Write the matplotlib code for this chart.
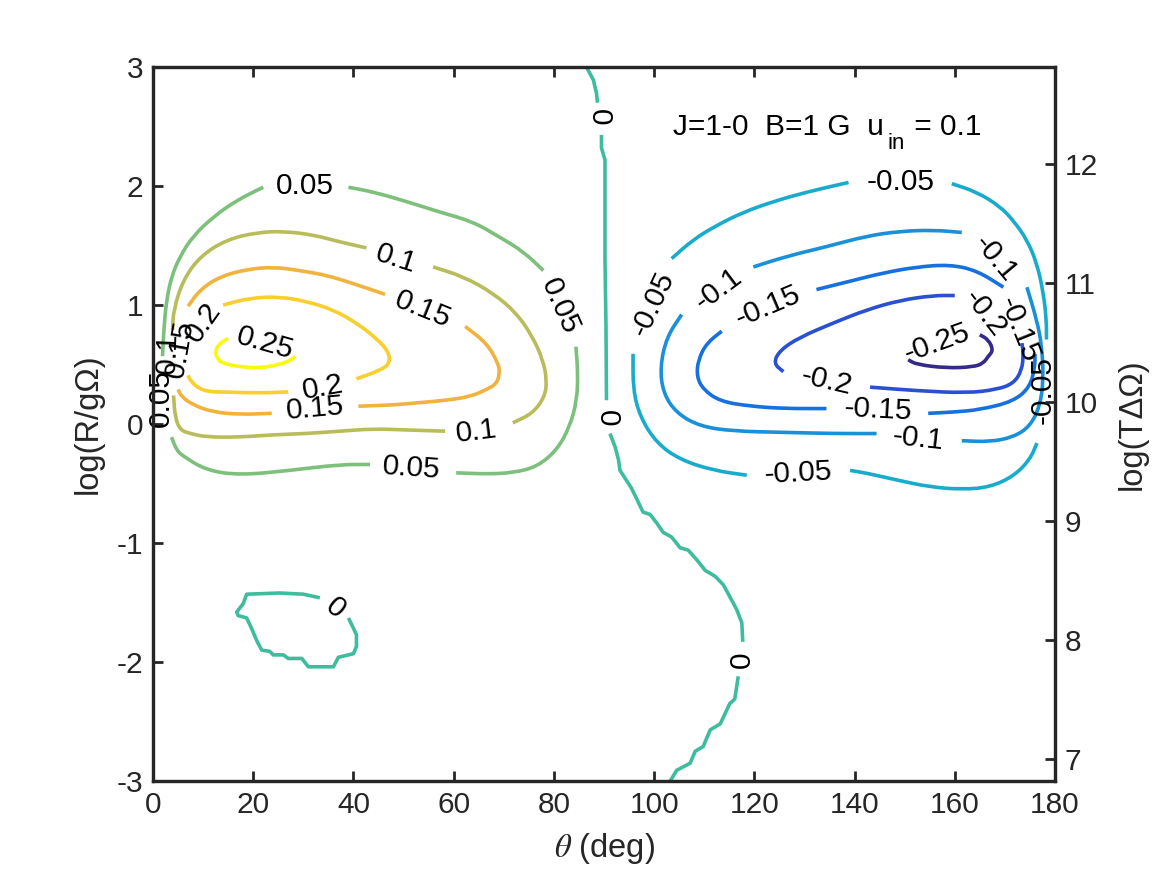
import numpy as np
import matplotlib
matplotlib.use("Agg")
import matplotlib.pyplot as plt
from matplotlib.path import Path
from matplotlib.patches import PathPatch

plt.rcParams['font.family'] = ['Liberation Sans', 'DejaVu Sans']
plt.rcParams['mathtext.fontset'] = 'stix'
plt.rcParams['axes.unicode_minus'] = False

# ---------------- data (theta [deg], log(R/gOmega)) ----------------
levels = [-0.25, -0.2, -0.15, -0.1, -0.05, 0.0, 0.05, 0.1, 0.15, 0.2, 0.25]
level_colors = ['#352a87', '#2a50d2', '#1670dd', '#1a90d8', '#19abcb', '#3ebc9e',
                '#7dc07b', '#b8bc5b', '#f0b33e', '#f8cf2c', '#f9f90f']

p005 = [
    [(1.9, 0.57), (2.2, 0.82), (2.7, 1.04), (3.7, 1.24), (5.4, 1.41), (8.0, 1.58), (12.0, 1.74), (16.7, 1.88), (22.0, 1.99)],
    [(39.0, 1.99), (44.0, 1.95), (50.6, 1.87), (57.3, 1.78), (63.9, 1.70), (69.2, 1.57), (73.9, 1.45), (77.9, 1.29)],
    [(84.4, 0.65), (84.8, 0.43), (84.6, 0.20), (83.2, -0.02), (80.6, -0.22), (76.6, -0.36), (71.8, -0.41), (66.6, -0.42), (60.5, -0.41)],
    [(43.3, -0.34), (37.3, -0.34), (27.3, -0.39), (17.4, -0.43), (10.7, -0.39), (6.0, -0.27), (4.7, -0.22), (3.7, -0.11)],
]
p010 = [
    [(3.9, 0.79), (4.1, 0.96), (6.0, 1.21), (9.4, 1.41), (14.7, 1.55), (20.7, 1.61), (26.0, 1.62), (32.0, 1.59), (37.3, 1.53), (42.6, 1.48)],
    [(55.9, 1.32), (61.9, 1.24), (67.9, 1.10), (72.6, 0.93), (75.8, 0.73), (77.8, 0.54), (78.6, 0.37), (78.2, 0.23), (75.8, 0.09), (71.8, 0.01)],
    [(58.3, -0.06), (50.6, -0.05), (44.0, -0.04), (37.3, -0.06), (30.7, -0.08), (24.0, -0.09), (17.4, -0.11), (10.7, -0.11), (7.4, -0.08), (5.4, -0.05), (4.4, 0.06), (4.1, 0.24)],
]
p015 = [
    [(7.0, 0.99), (9.4, 1.13), (13.4, 1.24), (18.7, 1.30), (24.0, 1.32), (29.3, 1.29), (34.7, 1.25), (40.0, 1.18), (46.3, 1.09)],
    [(62.3, 0.82), (66.6, 0.68), (68.9, 0.51), (69.2, 0.43), (68.6, 0.34), (66.6, 0.29), (63.3, 0.23), (58.6, 0.20), (53.3, 0.18), (48.0, 0.16), (41.0, 0.15)],
    [(23.7, 0.09), (17.4, 0.08), (12.0, 0.10), (8.0, 0.16), (5.7, 0.23), (5.0, 0.29)],
]
p020 = [
    [(14.0, 1.00), (19.4, 1.06), (25.3, 1.07), (30.7, 1.03), (36.0, 0.96), (40.6, 0.85), (44.6, 0.72), (47.0, 0.61), (47.3, 0.51), (45.3, 0.45), (40.6, 0.38)],
    [(27.0, 0.27), (20.7, 0.26), (14.0, 0.27), (11.4, 0.27), (9.0, 0.30), (7.4, 0.37), (7.0, 0.41)],
]
p025 = [
    [(15.0, 0.72), (13.4, 0.68), (12.4, 0.62), (12.8, 0.55), (13.9, 0.51), (17.4, 0.48), (21.4, 0.47), (25.3, 0.50), (27.7, 0.54), (28.3, 0.57)],
]
m005 = [
    [(103.5, 1.39), (107.8, 1.55), (112.5, 1.67), (117.8, 1.78), (123.8, 1.87), (130.5, 1.95), (138.8, 2.03)],
    [(159.4, 2.02), (164.4, 1.95), (169.0, 1.83), (171.7, 1.71), (174.4, 1.55), (176.4, 1.35), (177.7, 1.10), (178.3, 0.87), (178.3, 0.71)],
    [(176.4, -0.16), (175.0, -0.30), (171.7, -0.44), (167.0, -0.53), (161.7, -0.55), (155.1, -0.53), (148.4, -0.47), (142.1, -0.41), (139.1, -0.39)],
    [(118.5, -0.43), (111.8, -0.39), (105.2, -0.30), (100.5, -0.16), (97.2, 0.06), (95.8, 0.29), (95.8, 0.59)],
]
m010 = [
    [(119.8, 1.32), (126.5, 1.41), (134.4, 1.49), (142.4, 1.58), (149.1, 1.62), (155.7, 1.63), (161.4, 1.61)],
    [(174.4, 1.15), (176.4, 0.87), (177.4, 0.65), (177.7, 0.37), (177.0, 0.15), (175.0, -0.02), (171.7, -0.11), (167.0, -0.15), (161.4, -0.14)],
    [(144.4, -0.08), (135.8, -0.08), (125.8, -0.07), (115.8, -0.06), (109.2, -0.02), (104.5, 0.09), (101.8, 0.26), (101.2, 0.48), (102.5, 0.73), (105.5, 0.92)],
]
m015 = [
    [(132.4, 1.13), (139.1, 1.20), (145.7, 1.27), (152.4, 1.32), (159.0, 1.34), (164.4, 1.29), (169.7, 1.15)],
    [(176.0, 0.59), (176.0, 0.48), (175.0, 0.31), (171.7, 0.19), (165.0, 0.12), (159.7, 0.10), (154.7, 0.09)],
    [(134.4, 0.13), (125.8, 0.13), (119.1, 0.15), (113.2, 0.19), (109.8, 0.29), (108.5, 0.40), (108.8, 0.54), (110.5, 0.68), (113.5, 0.78)],
]
m020 = [
    [(125.8, 0.44), (123.8, 0.51), (125.1, 0.62), (129.1, 0.73), (135.8, 0.85), (142.4, 0.96), (149.1, 1.04), (155.7, 1.08), (160.0, 1.08)],
    [(173.4, 0.68), (173.7, 0.59), (173.4, 0.45), (171.7, 0.34), (168.4, 0.29), (162.4, 0.26), (152.4, 0.28), (143.1, 0.31)],
]
m025 = [
    [(150.7, 0.54), (152.4, 0.50), (158.4, 0.47), (163.7, 0.48), (165.7, 0.51), (166.7, 0.57), (167.7, 0.62), (166.7, 0.71), (165.0, 0.75)],
]
zero = [
    [(86.5, 3.0), (87.9, 2.89), (88.5, 2.78), (88.7, 2.70)],
    [(89.5, 2.43), (89.5, 2.32), (90.2, 2.22), (90.2, 1.94), (90.2, 1.38), (90.4, 0.82), (90.5, 0.20)],
    [(91.2, -0.08), (92.2, -0.19), (92.9, -0.30), (93.2, -0.39), (95.5, -0.54), (97.8, -0.74), (99.2, -0.76), (100.5, -0.83),
     (101.8, -0.91), (103.5, -0.95), (105.2, -1.04), (106.8, -1.06), (108.5, -1.14), (110.2, -1.23), (112.2, -1.28),
     (113.8, -1.35), (115.1, -1.45), (116.5, -1.56), (117.5, -1.67), (117.7, -1.83)],
    [(116.8, -2.12), (116.1, -2.31), (115.1, -2.35), (113.2, -2.52), (111.2, -2.57), (109.8, -2.71), (108.2, -2.75),
     (107.2, -2.85), (104.5, -2.91), (103.5, -2.98), (103.2, -3.0)],
    [(33.3, -1.46), (30.0, -1.43), (25.3, -1.42), (18.7, -1.43), (18.0, -1.51), (16.7, -1.58), (17.0, -1.61), (18.7, -1.63),
     (19.7, -1.72), (20.7, -1.82), (21.7, -1.90), (23.3, -1.91), (24.0, -1.94), (26.0, -1.94), (27.0, -1.97), (29.7, -1.97),
     (31.0, -2.04), (36.0, -2.04), (37.0, -1.96), (40.0, -1.93), (40.6, -1.87), (40.6, -1.77), (39.7, -1.69), (39.0, -1.63)],
]

label_text = ['0.05', '0.05', '0.05', '0.05',
              '0.1', '0.1', '0.1',
              '0.15', '0.15', '0.15',
              '0.2', '0.2', '0.25',
              '0', '0', '0', '0',
              '-0.05', '-0.05', '-0.05', '-0.05',
              '-0.1', '-0.1', '-0.1',
              '-0.15', '-0.15', '-0.15',
              '-0.2', '-0.2', '-0.25']
label_theta = [30.3, 81.2, 51.6, 1.6,
               48.6, 64.6, 2.9,
               53.9, 32.3, 5.3,
               34.0, 10.0, 22.4,
               89.0, 90.6, 117.5, 36.3,
               149.1, 177.6, 128.8, 99.8,
               168.0, 152.7, 112.8,
               172.8, 144.7, 122.8,
               166.0, 134.4, 156.4]
label_logR = [2.00, 0.99, -0.37, 0.22,
              1.39, -0.06, 0.60,
              0.96, 0.13, 0.63,
              0.31, 0.85, 0.68,
              2.58, 0.05, -1.98, -1.55,
              2.03, 0.29, -0.41, 1.01,
              1.39, -0.12, 1.13,
              0.79, 0.12, 0.99,
              0.93, 0.36, 0.68]
label_angle = [0, -66, -4, 90,
               -18, 7, 88,
               -22, 5, 80,
               10, 55, -16,
               -90, -90, 90, -40,
               0, 90, 3, 65,
               -50, -6, 37,
               -68, -3, 23,
               -52, -13, 20]

x_ticks = [0, 20, 40, 60, 80, 100, 120, 140, 160, 180]
y_ticks = [-3, -2, -1, 0, 1, 2, 3]
y2_ticks = [7, 8, 9, 10, 11, 12]
y2_limits = (6.815, 12.815)

annotation_parts = ['J=1-0  B=1 G  u', 'in', ' = 0.1']


def smooth_path(pts):
    pts = np.asarray(pts, float)
    if len(pts) < 3:
        return Path(pts)
    mids = (pts[:-1] + pts[1:]) / 2.0
    verts = [pts[0], mids[0]]
    codes = [Path.MOVETO, Path.LINETO]
    for i in range(1, len(pts) - 1):
        verts += [pts[i], mids[i]]
        codes += [Path.CURVE3, Path.CURVE3]
    verts.append(pts[-1])
    codes.append(Path.LINETO)
    return Path(verts, codes)


fig = plt.figure(figsize=(11.67, 8.75), dpi=100)
ax = fig.add_axes([0.1311, 0.1074, 0.7729, 0.8160])
ink = '#262626'
LW = 2.6
FS = 21.5
FL = 23.5

smooth_sets = [(m025, -0.25), (m020, -0.2), (m015, -0.15), (m010, -0.1), (m005, -0.05),
               (p005, 0.05), (p010, 0.1), (p015, 0.15), (p020, 0.2), (p025, 0.25)]
for segs, lev in smooth_sets:
    col = level_colors[levels.index(lev)]
    for seg in segs:
        ax.add_patch(PathPatch(smooth_path(seg), fill=False, edgecolor=col,
                               linewidth=LW, joinstyle='round', capstyle='butt'))
zcol = level_colors[levels.index(0.0)]
for seg in zero:
    s = np.asarray(seg)
    ax.plot(s[:, 0], s[:, 1], color=zcol, linewidth=LW, solid_joinstyle='round',
            solid_capstyle='butt')

for t, x, y, a in zip(label_text, label_theta, label_logR, label_angle):
    ax.text(x, y, t, fontsize=FS, color='black', rotation=a, rotation_mode='anchor',
            ha='center', va='center', clip_on=False)

ax.set_xlim(0, 180)
ax.set_ylim(-3, 3)

# annotation with a MATLAB-like large, dropped subscript
renderer = fig.canvas.get_renderer()
ann_x, ann_y = 103.8, 2.43
t1 = ax.text(ann_x, ann_y, annotation_parts[0], fontsize=FS, color='black',
             ha='left', va='baseline')
w1 = t1.get_window_extent(renderer).width * 72.0 / fig.dpi
t2 = ax.annotate(annotation_parts[1], xy=(ann_x, ann_y), xycoords='data',
                 xytext=(w1 + 2.5, -10.5), textcoords='offset points',
                 fontsize=16, color='black', ha='left', va='baseline')
w2 = t2.get_window_extent(renderer).width * 72.0 / fig.dpi
ax.annotate(annotation_parts[2], xy=(ann_x, ann_y), xycoords='data',
            xytext=(w1 + 2.5 + w2 + 1.0, 0), textcoords='offset points',
            fontsize=FS, color='black', ha='left', va='baseline')

ax.set_xticks(x_ticks)
ax.set_yticks(y_ticks)
ax.tick_params(axis='both', direction='in', length=7, width=2.0, colors=ink,
               labelsize=FS, pad=7, top=True, right=False)
for sp in ax.spines.values():
    sp.set_linewidth(2.3)
    sp.set_color(ink)
ax.set_xlabel(r'$\theta$ (deg)', fontsize=FL, color=ink)
ax.xaxis.set_label_coords(0.5, -0.070)
ax.set_ylabel('log(R/gΩ)', fontsize=FL, color=ink)
ax.yaxis.set_label_coords(-0.055, 0.5)

ax2 = ax.twinx()
ax2.set_ylim(*y2_limits)
ax2.set_yticks(y2_ticks)
ax2.tick_params(axis='y', direction='in', length=7, width=2.0, colors=ink,
                labelsize=FS, pad=7)
for sp in ax2.spines.values():
    sp.set_linewidth(2.3)
    sp.set_color(ink)
ax2.set_ylabel('log(TΔΩ)', fontsize=FL, color=ink)
ax2.yaxis.set_label_coords(1.069, 0.5)

fig.savefig('out.png', dpi=100, facecolor='white')
